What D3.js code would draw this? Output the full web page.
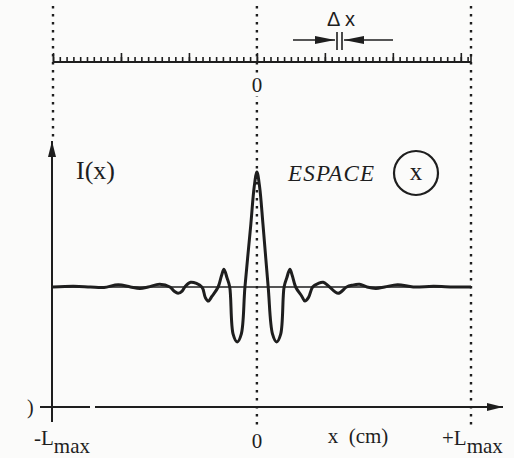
<!DOCTYPE html>
<html>
<head>
<meta charset="utf-8">
<script src="https://cdn.jsdelivr.net/npm/d3@7"></script>
<style>
  body { margin: 0; background: #fbfbfa; }
  text { font-family: "Liberation Serif", "DejaVu Serif", serif; fill: #1e1e1e; }
</style>
</head>
<body>
<div id="chart"></div>
<script>
// Interferogram I(x) (x in ruler units, I relative to central peak)
const curveX = [-3.0, -2.7, -2.45, -2.25, -2.04, -1.86, -1.72, -1.6, -1.43, -1.28, -1.22, -1.16, -1.1, -1.06,
  -0.975, -0.81, -0.76, -0.716, -0.66, -0.57, -0.52, -0.485, -0.44, -0.4, -0.35, -0.29, -0.23, -0.176,
  -0.09, -0.04, 0, 0.04, 0.09, 0.166, 0.23, 0.29, 0.35, 0.4, 0.44, 0.485, 0.52, 0.57, 0.66, 0.706, 0.76, 0.82,
  0.9, 0.975, 1.04, 1.07, 1.195, 1.32, 1.4, 1.51, 1.62, 1.75, 1.88, 2.07, 2.3, 2.6, 2.9, 3.15];
const curveI = [0, 0.006, 0, -0.004, 0.02, 0, -0.012, 0, 0.023, 0, -0.035, -0.055, -0.035, 0,
  0.041, 0, -0.09, -0.122, -0.08, 0, 0.1, 0.155, 0.08, 0, -0.41, -0.478, -0.41, 0,
  0.54, 0.87, 1.0, 0.87, 0.54, 0, -0.41, -0.478, -0.41, 0, 0.08, 0.155, 0.1, 0, -0.08, -0.122, -0.09, 0,
  0.03, 0.041, 0.015, 0, -0.055, 0, 0.015, 0.023, 0, -0.012, 0, 0.02, 0, 0.006, 0, 0];

// guide lines: -Lmax, 0, +Lmax
const guideX = [-3.0, 0, 3.15];
const guideLabels = ['-L', '0', '+L'];

// ruler graduations
const rulerMajor = [-3, -2, -1, 0, 1, 2, 3];
const rulerMinor = d3.range(-30, 32).map(d => d / 10);

const width = 514, height = 458;
const bg = '#fbfbfa';
const svg = d3.select('#chart').append('svg')
  .attr('width', width)
  .attr('height', height);

const ink = '#1e1e1e';

const xScale = d3.scaleLinear().domain([-3.0, 3.15]).range([53, 471]);
const yScale = d3.scaleLinear().domain([0, 1]).range([287, 172]);

const axisY = 407;

// markers for arrows
const defs = svg.append('defs');
defs.append('marker')
  .attr('id', 'arrow')
  .attr('viewBox', '0 0 16 8')
  .attr('refX', 16).attr('refY', 4)
  .attr('markerWidth', 16).attr('markerHeight', 8)
  .attr('markerUnits', 'userSpaceOnUse')
  .attr('orient', 'auto')
  .append('path')
  .attr('d', 'M0,0 L16,4 L0,8 Z')
  .attr('fill', ink);
defs.append('marker')
  .attr('id', 'arrowSmall')
  .attr('viewBox', '0 0 20 8')
  .attr('refX', 20).attr('refY', 4)
  .attr('markerWidth', 20).attr('markerHeight', 8)
  .attr('markerUnits', 'userSpaceOnUse')
  .attr('orient', 'auto')
  .append('path')
  .attr('d', 'M0,0 L20,4 L0,8 Z')
  .attr('fill', ink);

// dotted vertical guides
svg.selectAll('.guide')
  .data(guideX)
  .enter()
  .append('line')
  .attr('class', 'guide')
  .attr('x1', d => xScale(d)).attr('x2', d => xScale(d))
  .attr('y1', 6).attr('y2', (d, i) => i === 0 ? 140 : 428)
  .attr('stroke', ink)
  .attr('stroke-width', 2.4)
  .attr('stroke-dasharray', '2.4,5.6');

// ruler at the top
const rulerY = 62;
const ruler = svg.append('g').attr('transform', `translate(0,${rulerY})`);
ruler.append('g')
  .call(d3.axisTop(xScale).tickValues(rulerMinor).tickSize(5).tickFormat(''))
  .call(g => g.select('.domain').remove());
ruler.append('g')
  .call(d3.axisTop(xScale).tickValues(rulerMajor).tickSize(9).tickFormat(''))
  .call(g => g.select('.domain').remove());
ruler.append('line')
  .attr('x1', xScale(-3.0)).attr('x2', xScale(3.15))
  .attr('stroke', ink).attr('stroke-width', 1.8);
ruler.append('line')
  .attr('x1', xScale(3.15)).attr('x2', xScale(3.15))
  .attr('y1', 0).attr('y2', -8)
  .attr('stroke', ink).attr('stroke-width', 1.6);
ruler.selectAll('.tick line').attr('stroke', ink).attr('stroke-width', 1.6);
ruler.append('rect')
  .attr('x', xScale(0) - 7).attr('y', 12).attr('width', 14).attr('height', 22)
  .attr('fill', bg);
ruler.append('text')
  .attr('x', xScale(0)).attr('y', 30)
  .attr('text-anchor', 'middle')
  .attr('font-size', 21)
  .text('0');

// delta x annotation
const dx = svg.append('g');
dx.append('text')
  .attr('x', 341).attr('y', 26)
  .attr('text-anchor', 'middle')
  .attr('font-size', 20)
  .style('font-family', '"Liberation Sans", Arial, sans-serif')
  .attr('xml:space', 'preserve')
  .style('white-space', 'pre')
  .text('Δ x');
dx.append('line')
  .attr('x1', 293).attr('x2', 335).attr('y1', 40).attr('y2', 40)
  .attr('stroke', ink).attr('stroke-width', 1.6)
  .attr('marker-end', 'url(#arrowSmall)');
dx.append('line')
  .attr('x1', 393).attr('x2', 344).attr('y1', 40).attr('y2', 40)
  .attr('stroke', ink).attr('stroke-width', 1.6)
  .attr('marker-end', 'url(#arrowSmall)');
[337, 342].forEach(x => {
  dx.append('line')
    .attr('x1', x).attr('x2', x).attr('y1', 32).attr('y2', 50)
    .attr('stroke', ink).attr('stroke-width', 1.6);
});

// zero line of the interferogram
svg.append('line')
  .attr('x1', xScale(-3.0)).attr('x2', xScale(3.15))
  .attr('y1', yScale(0)).attr('y2', yScale(0))
  .attr('stroke', ink).attr('stroke-width', 1.3);

// the interferogram
const line = d3.line()
  .x((d, i) => xScale(curveX[i]))
  .y(d => yScale(d))
  .curve(d3.curveCatmullRom.alpha(0.5));
svg.append('path')
  .datum(curveI)
  .attr('d', line)
  .attr('fill', 'none')
  .attr('stroke', ink)
  .attr('stroke-width', 3)
  .attr('stroke-linejoin', 'round');

// axes
svg.append('line')
  .attr('x1', 52).attr('x2', 52).attr('y1', 422).attr('y2', 141)
  .attr('stroke', ink).attr('stroke-width', 2)
  .attr('marker-end', 'url(#arrow)');
svg.append('line')
  .attr('x1', 40).attr('x2', 90).attr('y1', axisY).attr('y2', axisY)
  .attr('stroke', ink).attr('stroke-width', 1.8);
svg.append('line')
  .attr('x1', 95).attr('x2', 503).attr('y1', axisY).attr('y2', axisY)
  .attr('stroke', ink).attr('stroke-width', 1.8)
  .attr('marker-end', 'url(#arrow)');
svg.append('text')
  .attr('x', 27).attr('y', axisY + 7)
  .attr('font-size', 20)
  .text(')');

// axis labels
const bottom = svg.append('g');
guideLabels.forEach((lab, i) => {
  const t = bottom.append('text')
    .attr('y', 445)
    .attr('font-size', 21);
  if (lab === '0') {
    t.attr('x', xScale(guideX[i])).attr('y', 448).attr('text-anchor', 'middle').text(lab);
  } else {
    t.attr('x', i === 0 ? 34 : 442);
    t.append('tspan').text(lab);
    t.append('tspan').attr('dy', 8).attr('font-size', 21).text('max');
  }
});
bottom.append('text')
  .attr('x', 358).attr('y', 443)
  .attr('text-anchor', 'middle')
  .attr('font-size', 21)
  .attr('xml:space', 'preserve')
  .style('white-space', 'pre')
  .text('x  (cm)');

svg.append('text')
  .attr('x', 76).attr('y', 179)
  .attr('font-size', 26)
  .text('I(x)');
svg.append('text')
  .attr('x', 288).attr('y', 181)
  .attr('font-size', 23)
  .attr('font-style', 'italic')
  .attr('textLength', 86)
  .text('ESPACE');
svg.append('circle')
  .attr('cx', 416).attr('cy', 173).attr('r', 22)
  .attr('fill', 'none')
  .attr('stroke', ink)
  .attr('stroke-width', 2.2);
svg.append('text')
  .attr('x', 416).attr('y', 180)
  .attr('text-anchor', 'middle')
  .attr('font-size', 25)
  .text('x');
</script>
</body>
</html>
